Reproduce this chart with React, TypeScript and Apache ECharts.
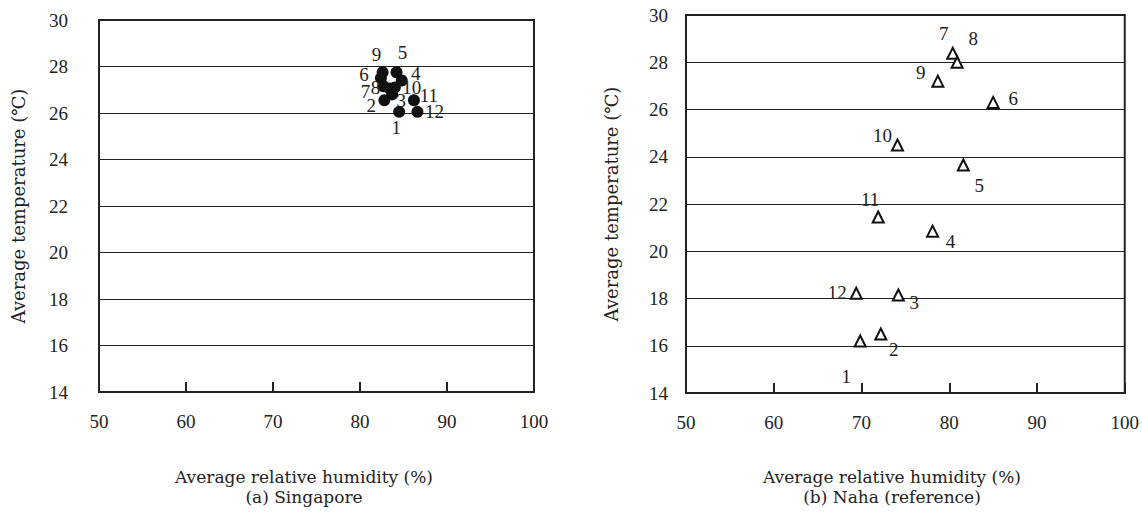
import React, { useEffect, useRef } from "react";
import * as echarts from "echarts";

const months = ["1", "2", "3", "4", "5", "6", "7", "8", "9", "10", "11", "12"];
const singaporeHumidity = [84.5, 82.8, 83.7, 84.8, 84.2, 82.4, 82.7, 83.4, 82.6, 84.0, 86.2, 86.6];
const singaporeTemp = [26.05, 26.55, 26.8, 27.4, 27.75, 27.5, 27.15, 27.05, 27.75, 27.1, 26.55, 26.05];
const nahaHumidity = [69.85, 72.2, 74.2, 78.1, 81.6, 85.0, 80.4, 80.9, 78.7, 74.1, 71.9, 69.4];
const nahaTemp = [16.2, 16.5, 18.15, 20.85, 23.65, 26.3, 28.38, 28.0, 27.2, 24.5, 21.45, 18.22];
const xTicks = [50, 60, 70, 80, 90, 100];
const yTicks = [14, 16, 18, 20, 22, 24, 26, 28, 30];

// label offsets (layout only)
const sgOffsets = [[-3, 16], [-13, 5], [9, 6], [14, -7], [6, -20], [-17, -4], [-18, 5], [-14, -1], [-6, -18], [17, 0], [15, -5], [17, 0]];
const nhOffsets = [[-14, 35], [13, 16], [16, 8], [18, 10], [16, 20], [20, -4], [-9, -20], [16, -24], [-17, -9], [-15, -9], [-8, -17], [-19, -1]];

const FONT = "Liberation Serif";
const NAME_FONT = "DejaVu Serif";

export default function App() {
  const ref = useRef<HTMLDivElement>(null);
  useEffect(() => {
    if (!ref.current) return;
    const chart = echarts.init(ref.current, null, { renderer: "svg" });
    const xAxisBase = (gridIndex: number) => ({
      type: "value",
      gridIndex,
      min: xTicks[0],
      max: xTicks[xTicks.length - 1],
      interval: 10,
      axisLine: { show: true, lineStyle: { color: "#222", width: 2 } },
      axisTick: { show: true, inside: true, length: 10, lineStyle: { color: "#222", width: 2 } },
      axisLabel: { color: "#222", fontFamily: FONT, fontSize: 19, margin: 20 },
      splitLine: { show: false },
    });
    const yAxisBase = (gridIndex: number, margin: number, nameGap: number) => ({
      type: "value",
      gridIndex,
      min: yTicks[0],
      max: yTicks[yTicks.length - 1],
      interval: 2,
      name: "Average temperature (℃)",
      nameLocation: "middle",
      nameGap,
      nameTextStyle: { color: "#222", fontFamily: NAME_FONT, fontSize: 18 },
      axisLine: { show: true, lineStyle: { color: "#222", width: 2 } },
      axisTick: { show: false },
      axisLabel: { color: "#222", fontFamily: FONT, fontSize: 19, margin },
      splitLine: { show: true, lineStyle: { color: "#222", width: 1 } },
    });
    const mkData = (xs: number[], ys: number[], offs: number[][]) =>
      xs.map((x, i) => ({
        value: [x, ys[i]],
        name: months[i],
        label: { offset: offs[i] },
      }));
    const capStyle = (text: string) => ({
      text,
      fill: "#222",
      font: `17px "${NAME_FONT}"`,
      align: "center",
      verticalAlign: "middle",
    });
    chart.setOption({
      animation: false,
      backgroundColor: "#fff",
      grid: [
        { left: 99, top: 20, width: 435, height: 372, show: true, borderColor: "#222", borderWidth: 2, backgroundColor: "transparent" },
        { left: 686, top: 15, width: 440, height: 378, show: true, borderColor: "#222", borderWidth: 2, backgroundColor: "transparent" },
      ],
      xAxis: [xAxisBase(0), xAxisBase(1)],
      yAxis: [yAxisBase(0, 31, 72), yAxisBase(1, 18, 66)],
      series: [
        {
          type: "scatter",
          xAxisIndex: 0,
          yAxisIndex: 0,
          symbol: "circle",
          symbolSize: 12,
          itemStyle: { color: "#111", opacity: 1 },
          label: {
            show: true,
            position: "inside",
            formatter: (p: any) => p.name,
            color: "#222",
            fontFamily: FONT,
            fontSize: 19,
          },
          data: mkData(singaporeHumidity, singaporeTemp, sgOffsets),
        },
        {
          type: "scatter",
          xAxisIndex: 1,
          yAxisIndex: 1,
          symbol: "triangle",
          symbolSize: 11,
          itemStyle: { color: "#fff", borderColor: "#111", borderWidth: 2, opacity: 1 },
          label: {
            show: true,
            position: "inside",
            formatter: (p: any) => p.name,
            color: "#222",
            fontFamily: FONT,
            fontSize: 19,
          },
          data: mkData(nahaHumidity, nahaTemp, nhOffsets),
        },
      ],
      graphic: [
        { type: "text", x: 304, y: 477, style: capStyle("Average relative humidity (%)") },
        { type: "text", x: 304, y: 497, style: capStyle("(a) Singapore") },
        { type: "text", x: 892, y: 477, style: capStyle("Average relative humidity (%)") },
        { type: "text", x: 892, y: 497, style: capStyle("(b) Naha (reference)") },
      ],
    });
    return () => chart.dispose();
  }, []);
  return <div ref={ref} style={{ position: "fixed", left: 0, top: 0, width: 1142, height: 516 }} />;
}
